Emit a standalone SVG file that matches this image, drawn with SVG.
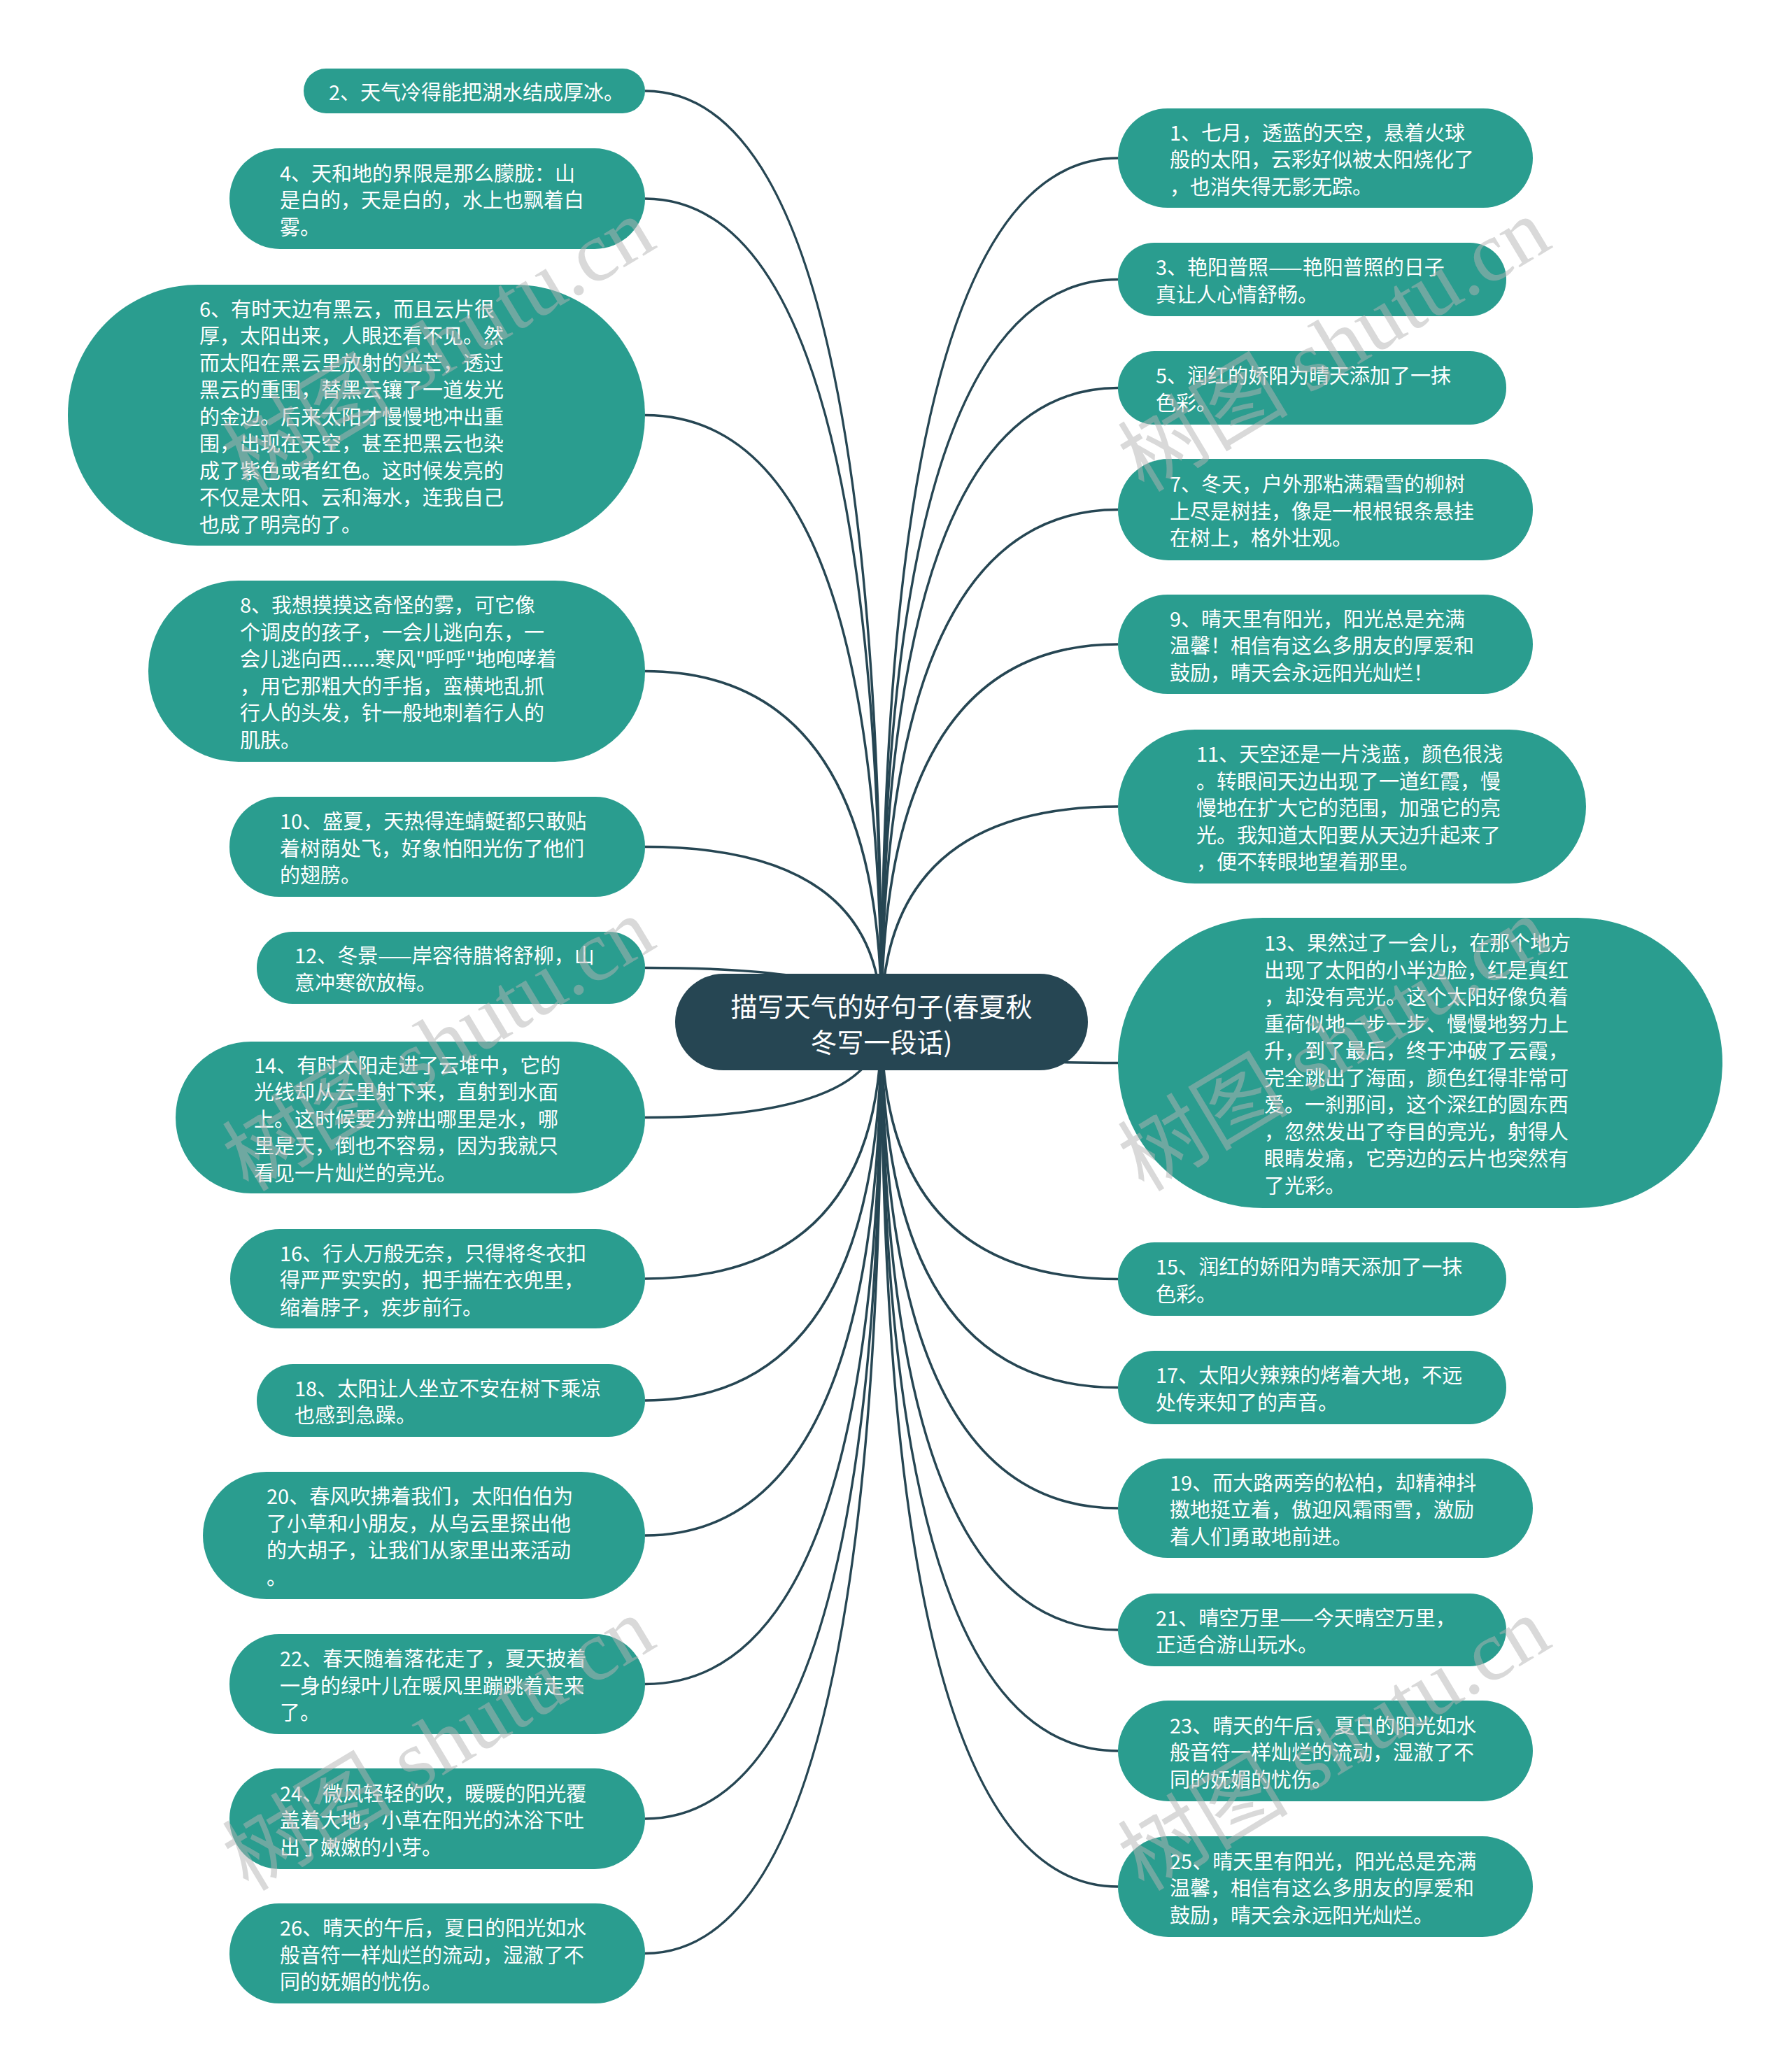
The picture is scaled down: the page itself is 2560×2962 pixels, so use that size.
<svg xmlns="http://www.w3.org/2000/svg" width="2560" height="2962" viewBox="0 0 2560 2962">
<style>
.bg{fill:#ffffff}
.node rect{fill:#2a9d8f}
.root rect{fill:#264653}
.t{font-family:"Noto Sans CJK SC","Noto Sans",sans-serif;font-size:29px;fill:#ffffff;dominant-baseline:central}
.rt{font-family:"Noto Sans CJK SC","Noto Sans",sans-serif;font-size:38px;fill:#ffffff;dominant-baseline:central;text-anchor:middle}
.edge{fill:none;stroke:#264653;stroke-width:3.5}
.wm{font-family:"Liberation Serif","Noto Sans CJK SC",serif;font-size:122px;fill:#b4b4b4;fill-opacity:0.5}
</style>
<rect class="bg" x="0" y="0" width="2560" height="2962"/>
<g id="connectors">
<path class="edge" d="M922 130 Q1260 130 1260 1461"/>
<path class="edge" d="M922 284 Q1260 284 1260 1461"/>
<path class="edge" d="M922 593.5 Q1260 593.5 1260 1461"/>
<path class="edge" d="M922 959.5 Q1260 959.5 1260 1461"/>
<path class="edge" d="M922 1210.5 Q1260 1210.5 1260 1461"/>
<path class="edge" d="M922 1383.5 Q1260 1383.5 1260 1461"/>
<path class="edge" d="M922 1597.5 Q1260 1597.5 1260 1461"/>
<path class="edge" d="M922 1828 Q1260 1828 1260 1461"/>
<path class="edge" d="M922 2002 Q1260 2002 1260 1461"/>
<path class="edge" d="M922 2195 Q1260 2195 1260 1461"/>
<path class="edge" d="M922 2407.5 Q1260 2407.5 1260 1461"/>
<path class="edge" d="M922 2600 Q1260 2600 1260 1461"/>
<path class="edge" d="M922 2792.5 Q1260 2792.5 1260 1461"/>
<path class="edge" d="M1598 226 Q1260 226 1260 1461"/>
<path class="edge" d="M1598 399.5 Q1260 399.5 1260 1461"/>
<path class="edge" d="M1598 554.5 Q1260 554.5 1260 1461"/>
<path class="edge" d="M1598 728.5 Q1260 728.5 1260 1461"/>
<path class="edge" d="M1598 921 Q1260 921 1260 1461"/>
<path class="edge" d="M1598 1153 Q1260 1153 1260 1461"/>
<path class="edge" d="M1598 1519.5 Q1260 1519.5 1260 1461"/>
<path class="edge" d="M1598 1828.5 Q1260 1828.5 1260 1461"/>
<path class="edge" d="M1598 1983.5 Q1260 1983.5 1260 1461"/>
<path class="edge" d="M1598 2156 Q1260 2156 1260 1461"/>
<path class="edge" d="M1598 2330 Q1260 2330 1260 1461"/>
<path class="edge" d="M1598 2503 Q1260 2503 1260 1461"/>
<path class="edge" d="M1598 2697 Q1260 2697 1260 1461"/>
</g>
<g id="root" class="root">
<rect x="965" y="1392" width="590" height="138" rx="69"/>
<text class="rt" x="1260" y="1436">描写天气的好句子(春夏秋</text>
<text class="rt" x="1260" y="1487">冬写一段话)</text>
</g>
<g id="n2" class="node"><rect x="434" y="98" width="488" height="64" rx="32"/>
<text class="t" x="470" y="130">2、天气冷得能把湖水结成厚冰。</text></g>
<g id="n4" class="node"><rect x="328" y="212" width="594" height="144" rx="72"/>
<text class="t" x="400" y="245.5">4、天和地的界限是那么朦胧：山</text>
<text class="t" x="400" y="284">是白的，天是白的，水上也飘着白</text>
<text class="t" x="400" y="322.5">雾。</text></g>
<g id="n6" class="node"><rect x="97" y="407" width="825" height="373" rx="186"/>
<text class="t" x="285" y="439.5">6、有时天边有黑云，而且云片很</text>
<text class="t" x="285" y="478">厚，太阳出来，人眼还看不见。然</text>
<text class="t" x="285" y="516.5">而太阳在黑云里放射的光芒，透过</text>
<text class="t" x="285" y="555">黑云的重围，替黑云镶了一道发光</text>
<text class="t" x="285" y="593.5">的金边。后来太阳才慢慢地冲出重</text>
<text class="t" x="285" y="632">围，出现在天空，甚至把黑云也染</text>
<text class="t" x="285" y="670.5">成了紫色或者红色。这时候发亮的</text>
<text class="t" x="285" y="709">不仅是太阳、云和海水，连我自己</text>
<text class="t" x="285" y="747.5">也成了明亮的了。</text></g>
<g id="n8" class="node"><rect x="212" y="830" width="710" height="259" rx="129"/>
<text class="t" x="343" y="863.25">8、我想摸摸这奇怪的雾，可它像</text>
<text class="t" x="343" y="901.75">个调皮的孩子，一会儿逃向东，一</text>
<text class="t" x="343" y="940.25">会儿逃向西......寒风"呼呼"地咆哮着</text>
<text class="t" x="343" y="978.75">，用它那粗大的手指，蛮横地乱抓</text>
<text class="t" x="343" y="1017.25">行人的头发，针一般地刺着行人的</text>
<text class="t" x="343" y="1055.75">肌肤。</text></g>
<g id="n10" class="node"><rect x="328" y="1139" width="594" height="143" rx="71"/>
<text class="t" x="400" y="1172">10、盛夏，天热得连蜻蜓都只敢贴</text>
<text class="t" x="400" y="1210.5">着树荫处飞，好象怕阳光伤了他们</text>
<text class="t" x="400" y="1249">的翅膀。</text></g>
<g id="n12" class="node"><rect x="367" y="1332" width="555" height="103" rx="51"/>
<text class="t" x="421" y="1364.25">12、冬景——岸容待腊将舒柳，山</text>
<text class="t" x="421" y="1402.75">意冲寒欲放梅。</text></g>
<g id="n14" class="node"><rect x="251" y="1489" width="671" height="217" rx="108"/>
<text class="t" x="363" y="1520.5">14、有时太阳走进了云堆中，它的</text>
<text class="t" x="363" y="1559">光线却从云里射下来，直射到水面</text>
<text class="t" x="363" y="1597.5">上。这时候要分辨出哪里是水，哪</text>
<text class="t" x="363" y="1636">里是天，倒也不容易，因为我就只</text>
<text class="t" x="363" y="1674.5">看见一片灿烂的亮光。</text></g>
<g id="n16" class="node"><rect x="329" y="1757" width="593" height="142" rx="71"/>
<text class="t" x="400" y="1789.5">16、行人万般无奈，只得将冬衣扣</text>
<text class="t" x="400" y="1828">得严严实实的，把手揣在衣兜里，</text>
<text class="t" x="400" y="1866.5">缩着脖子，疾步前行。</text></g>
<g id="n18" class="node"><rect x="367" y="1950" width="555" height="104" rx="52"/>
<text class="t" x="421" y="1982.75">18、太阳让人坐立不安在树下乘凉</text>
<text class="t" x="421" y="2021.25">也感到急躁。</text></g>
<g id="n20" class="node"><rect x="290" y="2104" width="632" height="182" rx="91"/>
<text class="t" x="381" y="2137.25">20、春风吹拂着我们，太阳伯伯为</text>
<text class="t" x="381" y="2175.75">了小草和小朋友，从乌云里探出他</text>
<text class="t" x="381" y="2214.25">的大胡子，让我们从家里出来活动</text>
<text class="t" x="381" y="2252.75">。</text></g>
<g id="n22" class="node"><rect x="328" y="2336" width="594" height="143" rx="71"/>
<text class="t" x="400" y="2369">22、春天随着落花走了，夏天披着</text>
<text class="t" x="400" y="2407.5">一身的绿叶儿在暖风里蹦跳着走来</text>
<text class="t" x="400" y="2446">了。</text></g>
<g id="n24" class="node"><rect x="328" y="2528" width="594" height="144" rx="72"/>
<text class="t" x="400" y="2561.5">24、微风轻轻的吹，暖暖的阳光覆</text>
<text class="t" x="400" y="2600">盖着大地，小草在阳光的沐浴下吐</text>
<text class="t" x="400" y="2638.5">出了嫩嫩的小芽。</text></g>
<g id="n26" class="node"><rect x="328" y="2721" width="594" height="143" rx="71"/>
<text class="t" x="400" y="2754">26、晴天的午后，夏日的阳光如水</text>
<text class="t" x="400" y="2792.5">般音符一样灿烂的流动，湿澈了不</text>
<text class="t" x="400" y="2831">同的妩媚的忧伤。</text></g>
<g id="n1" class="node"><rect x="1598" y="155" width="593" height="142" rx="71"/>
<text class="t" x="1672" y="187.5">1、七月，透蓝的天空，悬着火球</text>
<text class="t" x="1672" y="226">般的太阳，云彩好似被太阳烧化了</text>
<text class="t" x="1672" y="264.5">，也消失得无影无踪。</text></g>
<g id="n3" class="node"><rect x="1598" y="347" width="555" height="105" rx="52"/>
<text class="t" x="1652" y="380.25">3、艳阳普照——艳阳普照的日子</text>
<text class="t" x="1652" y="418.75">真让人心情舒畅。</text></g>
<g id="n5" class="node"><rect x="1598" y="502" width="555" height="105" rx="52"/>
<text class="t" x="1652" y="535.25">5、润红的娇阳为晴天添加了一抹</text>
<text class="t" x="1652" y="573.75">色彩。</text></g>
<g id="n7" class="node"><rect x="1598" y="656" width="593" height="145" rx="72"/>
<text class="t" x="1672" y="690">7、冬天，户外那粘满霜雪的柳树</text>
<text class="t" x="1672" y="728.5">上尽是树挂，像是一根根银条悬挂</text>
<text class="t" x="1672" y="767">在树上，格外壮观。</text></g>
<g id="n9" class="node"><rect x="1598" y="850" width="593" height="142" rx="71"/>
<text class="t" x="1672" y="882.5">9、晴天里有阳光，阳光总是充满</text>
<text class="t" x="1672" y="921">温馨！相信有这么多朋友的厚爱和</text>
<text class="t" x="1672" y="959.5">鼓励，晴天会永远阳光灿烂！</text></g>
<g id="n11" class="node"><rect x="1598" y="1043" width="669" height="220" rx="110"/>
<text class="t" x="1710" y="1076">11、天空还是一片浅蓝，颜色很浅</text>
<text class="t" x="1710" y="1114.5">。转眼间天边出现了一道红霞，慢</text>
<text class="t" x="1710" y="1153">慢地在扩大它的范围，加强它的亮</text>
<text class="t" x="1710" y="1191.5">光。我知道太阳要从天边升起来了</text>
<text class="t" x="1710" y="1230">，便不转眼地望着那里。</text></g>
<g id="n13" class="node"><rect x="1598" y="1312" width="864" height="415" rx="207"/>
<text class="t" x="1807" y="1346.25">13、果然过了一会儿，在那个地方</text>
<text class="t" x="1807" y="1384.75">出现了太阳的小半边脸，红是真红</text>
<text class="t" x="1807" y="1423.25">，却没有亮光。这个太阳好像负着</text>
<text class="t" x="1807" y="1461.75">重荷似地一步一步、慢慢地努力上</text>
<text class="t" x="1807" y="1500.25">升，到了最后，终于冲破了云霞，</text>
<text class="t" x="1807" y="1538.75">完全跳出了海面，颜色红得非常可</text>
<text class="t" x="1807" y="1577.25">爱。一刹那间，这个深红的圆东西</text>
<text class="t" x="1807" y="1615.75">，忽然发出了夺目的亮光，射得人</text>
<text class="t" x="1807" y="1654.25">眼睛发痛，它旁边的云片也突然有</text>
<text class="t" x="1807" y="1692.75">了光彩。</text></g>
<g id="n15" class="node"><rect x="1598" y="1776" width="555" height="105" rx="52"/>
<text class="t" x="1652" y="1809.25">15、润红的娇阳为晴天添加了一抹</text>
<text class="t" x="1652" y="1847.75">色彩。</text></g>
<g id="n17" class="node"><rect x="1598" y="1931" width="555" height="105" rx="52"/>
<text class="t" x="1652" y="1964.25">17、太阳火辣辣的烤着大地，不远</text>
<text class="t" x="1652" y="2002.75">处传来知了的声音。</text></g>
<g id="n19" class="node"><rect x="1598" y="2085" width="593" height="142" rx="71"/>
<text class="t" x="1672" y="2117.5">19、而大路两旁的松柏，却精神抖</text>
<text class="t" x="1672" y="2156">擞地挺立着，傲迎风霜雨雪，激励</text>
<text class="t" x="1672" y="2194.5">着人们勇敢地前进。</text></g>
<g id="n21" class="node"><rect x="1598" y="2278" width="555" height="104" rx="52"/>
<text class="t" x="1652" y="2310.75">21、晴空万里——今天晴空万里，</text>
<text class="t" x="1652" y="2349.25">正适合游山玩水。</text></g>
<g id="n23" class="node"><rect x="1598" y="2431" width="593" height="144" rx="72"/>
<text class="t" x="1672" y="2464.5">23、晴天的午后，夏日的阳光如水</text>
<text class="t" x="1672" y="2503">般音符一样灿烂的流动，湿澈了不</text>
<text class="t" x="1672" y="2541.5">同的妩媚的忧伤。</text></g>
<g id="n25" class="node"><rect x="1598" y="2625" width="593" height="144" rx="72"/>
<text class="t" x="1672" y="2658.5">25、晴天里有阳光，阳光总是充满</text>
<text class="t" x="1672" y="2697">温馨，相信有这么多朋友的厚爱和</text>
<text class="t" x="1672" y="2735.5">鼓励，晴天会永远阳光灿烂。</text></g>
<g id="watermarks">
<text class="wm" transform="translate(355 705) rotate(-31)">树图 shutu.cn</text>
<text class="wm" transform="translate(1635 705) rotate(-31)">树图 shutu.cn</text>
<text class="wm" transform="translate(355 1705) rotate(-31)">树图 shutu.cn</text>
<text class="wm" transform="translate(1635 1705) rotate(-31)">树图 shutu.cn</text>
<text class="wm" transform="translate(355 2705) rotate(-31)">树图 shutu.cn</text>
<text class="wm" transform="translate(1635 2705) rotate(-31)">树图 shutu.cn</text>
</g>
</svg>
